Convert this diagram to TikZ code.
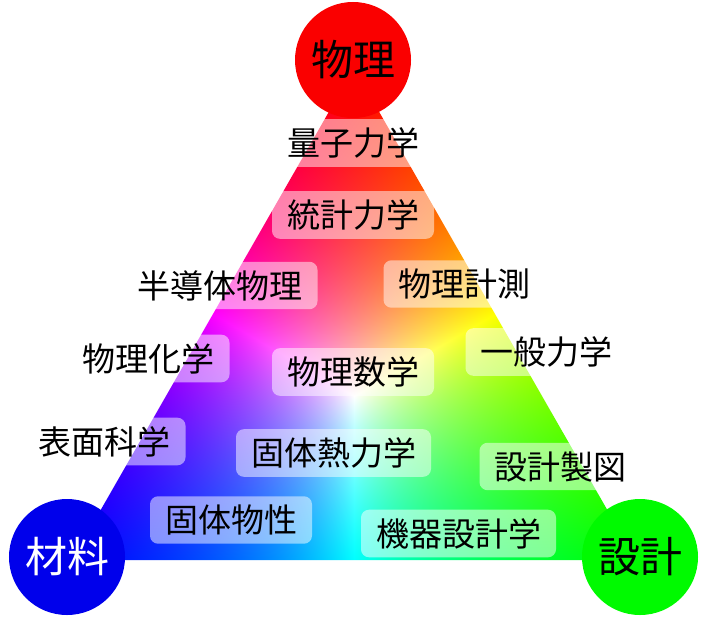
\documentclass[tikz,border=0pt]{standalone}
\usepackage{fontspec}
\newfontfamily\jpfont{Noto Sans CJK JP}

\definecolor{physred}{RGB}{250,0,0}
\definecolor{matblue}{RGB}{0,0,235}
\definecolor{desgreen}{RGB}{0,250,0}

% colour triangle: red at the top, blue bottom left, green bottom right
\pgfdeclarefunctionalshading{colortri}{\pgfpointorigin}{\pgfpoint{564bp}{492bp}}{}{
  2 copy 984 div exch 564 div exch sub
  3 1 roll
  dup 492 div
  3 1 roll
  984 div exch 564 div add
  1 exch sub
  3 -1 roll exch
  3 copy
  2 copy lt {exch} if pop
  2 copy lt {exch} if pop
  4 1 roll
  3 index div 3 1 roll
  3 index div 3 1 roll
  3 index div 3 1 roll
  4 -1 roll pop
}

\tikzset{
  pole/.style={circle, minimum size=116bp, inner sep=0pt,
    font=\jpfont\fontsize{42bp}{50bp}\selectfont},
  field/.style={fill=white, fill opacity=0.5, text opacity=1,
    rounded corners=8bp, inner xsep=15bp, inner ysep=8.5bp,
    font=\jpfont\fontsize{33bp}{40bp}\selectfont}
}

\begin{document}
\begin{tikzpicture}[x=1bp, y=-1bp]
        \useasboundingbox (0,0) rectangle (708,618);

        \coordinate (top) at (354,68);
        \coordinate (left) at (72,560);
        \coordinate (right) at (636,560);

        \begin{scope}
          \clip (top) -- (left) -- (right) -- cycle;
          \node[inner sep=0pt, outer sep=0pt, anchor=south west] (tri) at (left) {\pgfuseshading{colortri}};
        \end{scope}

        \node[field] (qm) at (353,143) {量子力学};
        \node[field] (stat) at (353,215) {統計力学};
        \node[field] (semi) at (220,285.5) {半導体物理};
        \node[field] (meas) at (464.5,284) {物理計測};
        \node[field] (chem) at (148.5,358.5) {物理化学};
        \node[field] (mech) at (546.5,352) {一般力学};
        \node[field] (math) at (353,372) {物理数学};
        \node[field] (surf) at (104.5,441.5) {表面科学};
        \node[field] (thermo) at (333.5,453) {固体熱力学};
        \node[field] (draft) at (560.5,466.5) {設計製図};
        \node[field] (solid) at (231,520) {固体物性};
        \node[field] (machine) at (458.5,533.5) {機器設計学};

        \node[pole, fill=physred] (phys) at (353,60) {物理};
        \node[pole, fill=matblue, text=white] (mat) at (67,557) {材料};
        \node[pole, fill=desgreen] (des) at (640,557) {設計};
      \end{tikzpicture}
\end{document}
